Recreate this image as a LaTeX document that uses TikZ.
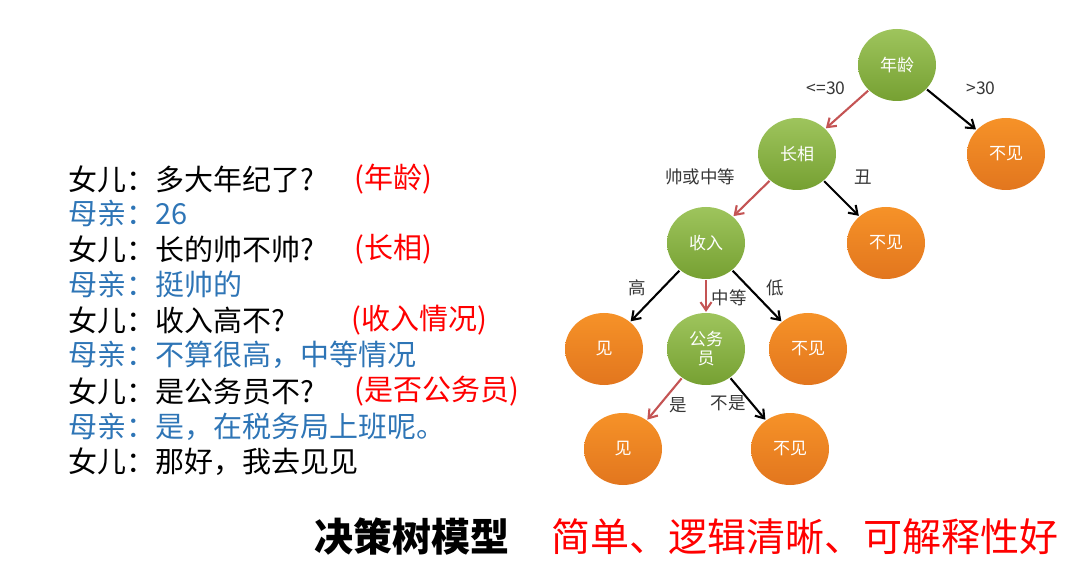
\documentclass[tikz,border=0pt]{standalone}
\usepackage{fontspec}
\setmainfont{Noto Sans CJK SC}
\usepackage{xcolor}
\usetikzlibrary{arrows.meta, shapes.geometric}
\definecolor{leafgreen}{RGB}{141,186,64}
\definecolor{darkgreen}{RGB}{118,160,50}
\definecolor{leaforange}{RGB}{246,146,40}
\definecolor{darkorange}{RGB}{226,118,30}
\definecolor{pathred}{RGB}{196,84,84}
\definecolor{momblue}{RGB}{46,117,182}
\definecolor{labelgray}{RGB}{55,55,55}

\begin{document}
\begin{tikzpicture}[x=1pt, y=-1pt, >={Straight Barb[length=8pt, width=11pt]}, line width=2.1pt,
    decision/.style={ellipse, minimum width=78pt, minimum height=72pt, inner sep=0pt,
        top color=leafgreen!85!white, bottom color=darkgreen, text=white,
        font=\fontsize{17}{19}\selectfont, align=center},
    outcome/.style={decision, top color=leaforange, bottom color=darkorange},
    redarrow/.style={->, pathred},
    blackarrow/.style={->, black},
    lbl/.style={text=labelgray, font=\fontsize{17.5}{19}\selectfont},
    talk/.style={anchor=west, font=\fontsize{29}{31}\selectfont},
    tag/.style={talk, red}]
    \useasboundingbox (0,0) rectangle (1080,580);

    % Dialogue
    \node[talk] (line1) at (64,179) {女儿：多大年纪了?};
    \node[talk, momblue] (line2) at (64,213) {母亲：26};
    \node[talk] (line3) at (64,249) {女儿：长的帅不帅?};
    \node[talk, momblue] (line4) at (64,284) {母亲：挺帅的};
    \node[talk] (line5) at (64,320) {女儿：收入高不?};
    \node[talk, momblue] (line6) at (64,355) {母亲：不算很高，中等情况};
    \node[talk] (line7) at (64,391) {女儿：是公务员不?};
    \node[talk, momblue] (line8) at (64,427) {母亲：是，在税务局上班呢。};
    \node[talk] (line9) at (64,462) {女儿：那好，我去见见};
    \node[tag] (tag1) at (350,179) {(年龄)};
    \node[tag] (tag2) at (350,249) {(长相)};
    \node[tag] (tag3) at (347,320) {(收入情况)};
    \node[tag] (tag4) at (350,391) {(是否公务员)};

    % Tree
    \node[decision] (age) at (897,65) {年龄};
    \node[outcome] (old) at (1006,154) {不见};
    \node[decision] (looks) at (797,154) {长相};
    \node[outcome] (ugly) at (886,243) {不见};
    \node[decision] (income) at (706,243) {收入};
    \node[outcome] (rich) at (604,349) {见};
    \node[decision] (civil) at (706,349) {公务\\员};
    \node[outcome] (poor) at (808,349) {不见};
    \node[outcome] (meet) at (623,449) {见};
    \node[outcome] (skip) at (790,449) {不见};

    \draw[redarrow] (age) -- (looks);
    \draw[blackarrow] (age) -- (old);
    \draw[redarrow] (looks) -- (income);
    \draw[blackarrow] (looks) -- (ugly);
    \draw[blackarrow] (income) -- (rich);
    \draw[redarrow] (income) -- (civil);
    \draw[blackarrow] (income) -- (poor);
    \draw[redarrow] (civil) -- (meet);
    \draw[blackarrow] (civil) -- (skip);

    % Branch labels
    \node[lbl] (young) at (826,88) {<=30};
    \node[lbl] (older) at (981,88) {>30};
    \node[lbl] (handsome) at (700,177) {帅或中等};
    \node[lbl] (plain) at (863,177) {丑};
    \node[lbl] (high) at (637,288) {高};
    \node[lbl] (middle) at (729,298) {中等};
    \node[lbl] (low) at (775,288) {低};
    \node[lbl] (yes) at (678,405) {是};
    \node[lbl] (notyes) at (728,403) {不是};

    % Summary
    \node[anchor=west, font=\fontsize{39}{41}\selectfont\bfseries] (model) at (310,537) {决策树模型};
    \node[anchor=west, red, font=\fontsize{39}{41}\selectfont] (merit) at (547,537) {简单、逻辑清晰、可解释性好};
\end{tikzpicture}
\end{document}
